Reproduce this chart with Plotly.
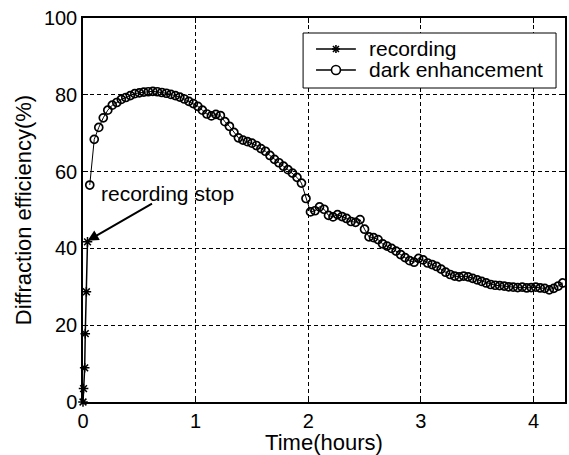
import plotly.graph_objects as go

# Recording phase
rec_time = [0, 0.005, 0.015, 0.02, 0.03, 0.04]
rec_eff = [0, 3.5, 8.9, 17.8, 28.7, 41.7]

# Dark enhancement phase
dark_time = [0.06, 0.10, 0.14, 0.18, 0.22, 0.26, 0.30, 0.34, 0.38, 0.42, 0.46, 0.50,
             0.54, 0.58, 0.62, 0.66, 0.70, 0.74, 0.78, 0.82, 0.86, 0.90, 0.94, 0.98,
             1.02, 1.06, 1.10, 1.14, 1.18, 1.22, 1.26, 1.30, 1.34, 1.38, 1.42, 1.46,
             1.50, 1.54, 1.58, 1.62, 1.66, 1.70, 1.74, 1.78, 1.82, 1.86, 1.90, 1.94,
             1.98, 2.02, 2.06, 2.10, 2.14, 2.18, 2.22, 2.26, 2.30, 2.34, 2.38, 2.42,
             2.46, 2.50, 2.54, 2.58, 2.62, 2.66, 2.70, 2.74, 2.78, 2.82, 2.86, 2.90,
             2.94, 2.98, 3.02, 3.06, 3.10, 3.14, 3.18, 3.22, 3.26, 3.30, 3.34, 3.38,
             3.42, 3.46, 3.50, 3.54, 3.58, 3.62, 3.66, 3.70, 3.74, 3.78, 3.82, 3.86,
             3.90, 3.94, 3.98, 4.02, 4.06, 4.10, 4.14, 4.18, 4.22, 4.26]
dark_eff = [56.5, 68.4, 71.5, 74.0, 76.0, 77.3, 78.0, 78.8, 79.3, 79.8, 80.3, 80.5,
            80.7, 80.8, 80.9, 80.8, 80.6, 80.4, 80.1, 79.8, 79.4, 78.9, 78.3, 77.7,
            77.0, 76.0, 75.0, 74.5, 74.9, 74.6, 73.0, 71.8, 70.2, 68.8, 68.2, 67.8,
            67.4, 66.8, 66.0, 65.3, 64.2, 63.2, 62.3, 61.4, 60.5, 59.6, 58.5, 57.0,
            53.0, 49.5, 49.8, 50.8, 50.2, 48.6, 48.2, 48.8, 48.3, 47.8, 47.0, 46.8,
            47.5, 45.0, 43.0, 42.8, 42.3, 41.2, 40.6, 40.0, 39.3, 38.4, 37.6, 36.8,
            36.4, 37.4, 37.0, 36.2, 35.8, 35.3, 34.6, 33.8, 33.2, 32.8, 32.6, 32.8,
            32.6, 32.2, 31.8, 31.4, 31.0, 30.6, 30.4, 30.3, 30.2, 30.0, 29.9, 29.8,
            29.9, 29.7, 29.8, 29.9, 29.7, 29.6, 29.2, 29.6, 30.2, 31.0]

x_ticks = [0, 1, 2, 3, 4]
y_ticks = [0, 20, 40, 60, 80, 100]
series_names = ["recording", "dark enhancement"]

FONT = "Liberation Sans, Arial, Helvetica, sans-serif"
TICK_SIZE = 20
TEXT_SIZE = 22

# plot area in pixels (margins below)
L, R, T, B = 83, 567, 18, 402


def px(x):
    return (x - L) / (R - L)


def py(y):
    return (B - y) / (B - T)


fig = go.Figure()
fig.add_trace(go.Scatter(
    x=rec_time, y=rec_eff, name=series_names[0], mode="lines+markers",
    line=dict(color="black", width=1.5),
    marker=dict(symbol="asterisk-open", size=8, color="black",
                line=dict(color="black", width=1.5)),
    cliponaxis=False, showlegend=False,
))
fig.add_trace(go.Scatter(
    x=dark_time, y=dark_eff, name=series_names[1], mode="lines+markers",
    line=dict(color="black", width=1),
    marker=dict(symbol="circle-open", size=8, color="black",
                line=dict(color="black", width=1.7)),
    showlegend=False,
))

fig.add_annotation(x=0.04, y=42, ax=66, ay=-38, text="", showarrow=True,
                   arrowhead=2, arrowsize=1.1, arrowwidth=2, arrowcolor="black")
fig.add_annotation(x=0.753, y=54.4, text="recording stop", showarrow=False,
                   font=dict(size=TEXT_SIZE - 1, color="black", family=FONT))

# ---- hand-built legend box (compact row spacing as in the original) ----
shapes = []
shapes.append(dict(type="rect", xref="paper", yref="paper",
                   x0=px(304), x1=px(558), y0=py(88), y1=py(33),
                   line=dict(color="black", width=1), fillcolor="white", layer="above"))
row_y = [49, 70]
for ry in row_y:
    shapes.append(dict(type="line", xref="paper", yref="paper",
                       x0=px(317), x1=px(357), y0=py(ry), y1=py(ry),
                       line=dict(color="black", width=1.3), layer="above"))
# asterisk glyph for "recording"
cx, cy = 337, row_y[0]
for dx0, dy0, dx1, dy1 in [(-4, 0, 4, 0), (0, -4, 0, 4), (-3, -3, 3, 3), (-3, 3, 3, -3)]:
    shapes.append(dict(type="line", xref="paper", yref="paper",
                       x0=px(cx + dx0), x1=px(cx + dx1), y0=py(cy + dy0), y1=py(cy + dy1),
                       line=dict(color="black", width=1.6), layer="above"))
# open circle glyph for "dark enhancement"
cx, cy = 337, row_y[1]
shapes.append(dict(type="circle", xref="paper", yref="paper",
                   x0=px(cx - 4.5), x1=px(cx + 4.5), y0=py(cy + 4.5), y1=py(cy - 4.5),
                   line=dict(color="black", width=1.6), fillcolor="white", layer="above"))
fig.update_layout(shapes=shapes)
for name, ry in zip(series_names, row_y):
    fig.add_annotation(xref="paper", yref="paper", x=px(368), y=py(ry),
                       xanchor="left", yanchor="middle", text=name, showarrow=False,
                       font=dict(size=TEXT_SIZE - 1, color="black", family=FONT))

axis_common = dict(
    showline=True, linecolor="black", linewidth=1.5, mirror="ticks",
    ticks="inside", ticklen=5, tickcolor="black", tickwidth=1,
    showgrid=True, gridcolor="black", gridwidth=1, griddash="4px,3px",
    zeroline=False, tickfont=dict(size=TICK_SIZE, color="black", family=FONT),
)

fig.update_xaxes(range=[0, 4.28], tickvals=x_ticks,
                 title=dict(text="Time(hours)", font=dict(size=TEXT_SIZE, color="black", family=FONT), standoff=4),
                 **axis_common)
fig.update_yaxes(range=[0, 100], tickvals=y_ticks,
                 title=dict(text="Diffraction efficiency(%)", font=dict(size=TEXT_SIZE, color="black", family=FONT), standoff=6),
                 **axis_common)

fig.update_layout(
    width=569, height=455,
    margin=dict(l=L, r=569 - R, t=T, b=455 - B),
    plot_bgcolor="white", paper_bgcolor="white",
    font=dict(family=FONT, color="black", size=TICK_SIZE),
    showlegend=False,
)

fig.write_html("out.html")
